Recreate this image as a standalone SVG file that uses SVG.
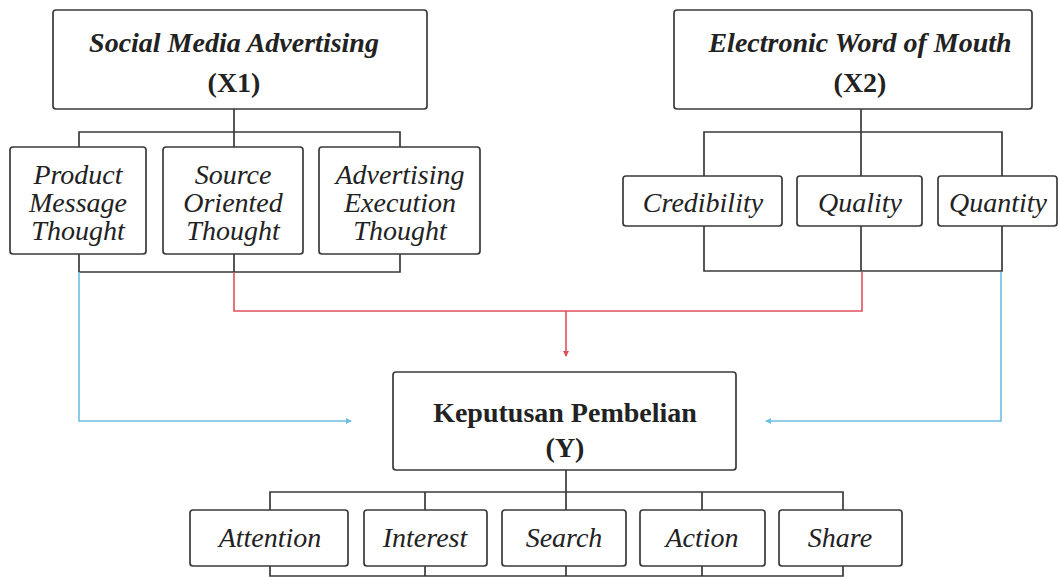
<svg xmlns="http://www.w3.org/2000/svg" width="1060" height="577" viewBox="0 0 1060 577">
<defs>
<style>
.box{fill:#fff;stroke:#3a3a3a;stroke-width:1.7}
.ln{fill:none;stroke:#3a3a3a;stroke-width:1.7}
.red{fill:none;stroke:#e0505a;stroke-width:1.6}
.blue{fill:none;stroke:#6fbfe3;stroke-width:1.6}
.t{font-family:"Liberation Serif","Times New Roman",serif;font-size:28px;fill:#222;text-anchor:middle}
.i{font-style:italic}
.bi{font-style:italic;font-weight:bold}
.b{font-weight:bold}
</style>
<marker id="ar" viewBox="0 0 6 6" refX="5" refY="3" markerWidth="6" markerHeight="6" markerUnits="userSpaceOnUse" orient="auto"><path d="M0,0 L6,3 L0,6 z" fill="#e0505a"/></marker>
<marker id="ab" viewBox="0 0 6 6" refX="5" refY="3" markerWidth="6" markerHeight="6" markerUnits="userSpaceOnUse" orient="auto"><path d="M0,0 L6,3 L0,6 z" fill="#6fbfe3"/></marker>
</defs>
<rect width="1060" height="577" fill="#fff"/>
<g id="connectors">
<path class="ln" d="M234,109 V132 M79,147 V132 H400 V147 M234,132 V147"/>
<path class="ln" d="M79,254 V272 H400 V254 M234,254 V272"/>
<path class="ln" d="M861,109 V132 M704,176 V132 H1002 V176 M861,132 V176"/>
<path class="ln" d="M704,226 V271 H1002 V226 M861,226 V271"/>
<path class="ln" d="M566,470 V492 M270,510 V492 H843 V510 M425,492 V510 M566,492 V510 M702,492 V510"/>
<path class="ln" d="M270,566 V576 H843 V566 M425,566 V576 M566,566 V576 M702,566 V576"/>
<path class="red" d="M234,272 V311 H862 V272"/>
<path class="red" d="M566,311 V356" marker-end="url(#ar)"/>
<path class="blue" d="M79,272 V421 H351" marker-end="url(#ab)"/>
<path class="blue" d="M1001,272 V421 H766" marker-end="url(#ab)"/>
</g>
<g id="x1">
<rect class="box" x="53" y="10" width="374" height="99" rx="3"/>
<text class="t bi" x="234" y="52">Social Media Advertising</text>
<text class="t b" x="234" y="92">(X1)</text>
</g>
<g id="x2">
<rect class="box" x="674" y="10" width="358" height="99" rx="3"/>
<text class="t bi" x="860" y="52">Electronic Word of Mouth</text>
<text class="t b" x="860" y="92">(X2)</text>
</g>
<g id="pmt">
<rect class="box" x="10" y="147" width="136" height="107" rx="3"/>
<text class="t i" x="78" y="184">Product</text>
<text class="t i" x="78" y="212">Message</text>
<text class="t i" x="78" y="240">Thought</text>
</g>
<g id="sot">
<rect class="box" x="163" y="147" width="140" height="107" rx="3"/>
<text class="t i" x="233" y="184">Source</text>
<text class="t i" x="233" y="212">Oriented</text>
<text class="t i" x="233" y="240">Thought</text>
</g>
<g id="aet">
<rect class="box" x="319" y="147" width="161" height="107" rx="3"/>
<text class="t i" x="400" y="184">Advertising</text>
<text class="t i" x="400" y="212">Execution</text>
<text class="t i" x="400" y="240">Thought</text>
</g>
<g id="cred">
<rect class="box" x="623" y="176" width="159" height="50" rx="3"/>
<text class="t i" x="703" y="212">Credibility</text>
</g>
<g id="qual">
<rect class="box" x="797" y="176" width="125" height="50" rx="3"/>
<text class="t i" x="860" y="212">Quality</text>
</g>
<g id="quan">
<rect class="box" x="938" y="176" width="119" height="50" rx="3"/>
<text class="t i" x="998" y="212">Quantity</text>
</g>
<g id="y">
<rect class="box" x="393" y="372" width="343" height="98" rx="3"/>
<text class="t b" x="565" y="422">Keputusan Pembelian</text>
<text class="t b" x="565" y="457">(Y)</text>
</g>
<g id="att">
<rect class="box" x="190" y="510" width="158" height="56" rx="3"/>
<text class="t i" x="270" y="547">Attention</text>
</g>
<g id="int">
<rect class="box" x="364" y="510" width="123" height="56" rx="3"/>
<text class="t i" x="425" y="547">Interest</text>
</g>
<g id="sea">
<rect class="box" x="502" y="510" width="124" height="56" rx="3"/>
<text class="t i" x="564" y="547">Search</text>
</g>
<g id="act">
<rect class="box" x="640" y="510" width="125" height="56" rx="3"/>
<text class="t i" x="702" y="547">Action</text>
</g>
<g id="sha">
<rect class="box" x="779" y="510" width="123" height="56" rx="3"/>
<text class="t i" x="840" y="547">Share</text>
</g>
</svg>
